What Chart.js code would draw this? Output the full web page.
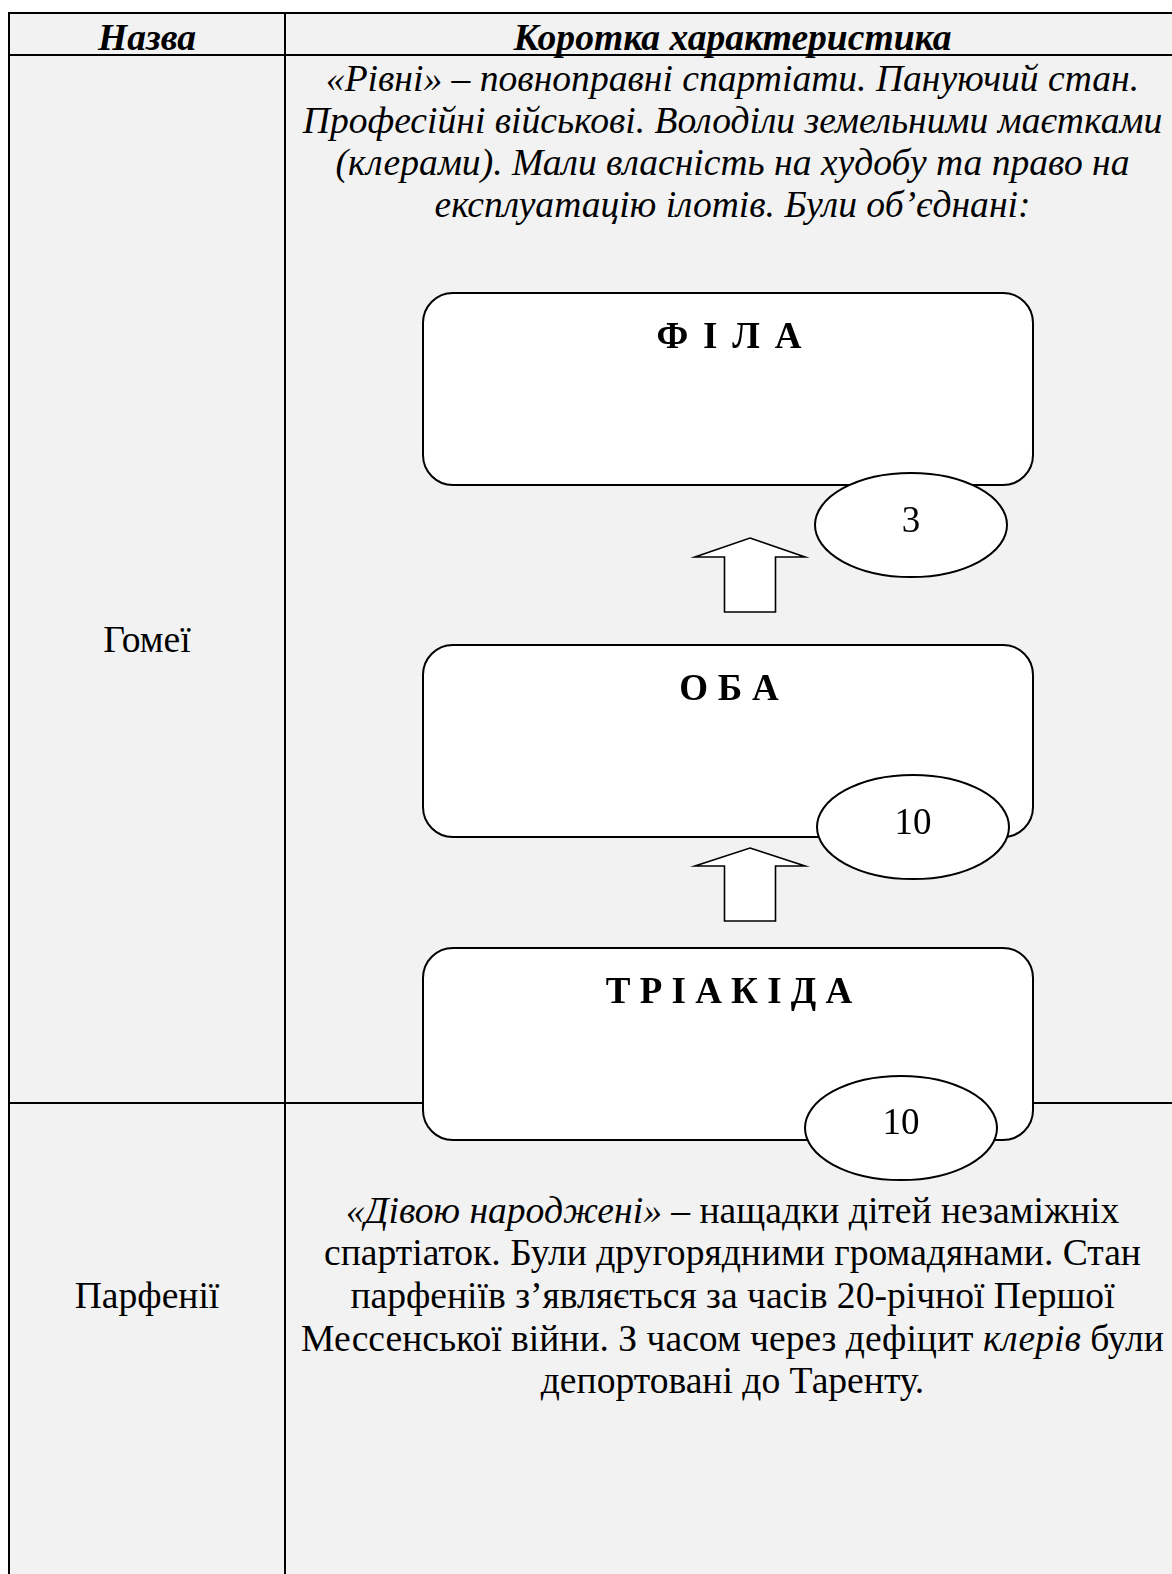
<!DOCTYPE html>
<html lang="uk">
<head>
<meta charset="utf-8">
<script src="https://cdn.jsdelivr.net/npm/chart.js@4.4.1/dist/chart.umd.min.js"></script>
<style>
html,body{margin:0;padding:0;width:1172px;height:1574px;overflow:hidden;background:#fff;}
#page{position:relative;width:1172px;height:1574px;overflow:hidden;}
.bg{position:absolute;left:8px;top:12px;width:1200px;height:1600px;background:#f2f2f2;}
.line{position:absolute;background:#000;}
.txt{position:absolute;font-family:"Liberation Serif","Times New Roman",serif;font-size:37.6px;line-height:42px;color:#000;white-space:nowrap;text-align:center;}
.hdr{font-weight:bold;font-style:italic;}
.it{font-style:italic;}
.lh2{line-height:42.7px;}
#c{position:absolute;left:0;top:0;}
</style>
</head>
<body>
<div id="page">
  <div class="bg"></div>
  <div class="line" style="left:8px;top:12px;width:1200px;height:2px"></div>
  <div class="line" style="left:8px;top:12px;width:2px;height:1600px"></div>
  <div class="line" style="left:8px;top:54px;width:1200px;height:2px"></div>
  <div class="line" style="left:284px;top:12px;width:2px;height:1600px"></div>
  <div class="line" style="left:8px;top:1102px;width:1200px;height:2px"></div>
  <div id="texts"></div>
  <canvas id="c" width="1172" height="1574" style="width:1172px;height:1574px"></canvas>
</div>
<script>
// ---- data ----
const headers = ['Назва', 'Коротка характеристика'];
const rowNames = ['Гомеї', 'Парфенії'];
const homoioiText = [
  '«Рівні» – повноправні спартіати. Пануючий стан.',
  'Професійні військові. Володіли земельними маєтками',
  '(клерами). Мали власність на худобу та право на',
  'експлуатацію ілотів. Були об’єднані:'
];
const partheniaiText = [
  '_«Дівою народжені»_ – нащадки дітей незаміжніх',
  'спартіаток. Були другорядними громадянами. Стан',
  'парфеніїв з’являється за часів 20-річної Першої',
  'Мессенської війни. З часом через дефіцит _клерів_ були',
  'депортовані до Таренту.'
];
const unionNames = ['Ф І Л А', 'О Б А', 'Т Р І А К І Д А'];
const unionCounts = [3, 10, 10];

// ---- layout (pixels) ----
const col1 = {left: 10, right: 284};
const col2 = {left: 286, right: 1179};
const textTops = {header: 16.5, homoioi: 58.3, homoioiName: 618.5, parth: 1189.5, parthName: 1274.9};

const diagram = {
  boxX0: 423, boxX1: 1033, boxH: 192, radius: 30,
  boxTops: [293, 645, 948],
  labelX: 729, labelBase: [348, 700, 1003], labelSpacing: [2.8, 0.3, 0],
  ellipses: [[911, 525], [913, 827], [901, 1128]], rx: 96, ry: 52,
  countBase: [532, 834, 1134],
  arrows: [{x: 750, tip: 538, base: 557, bottom: 612}, {x: 750, tip: 848, base: 866, bottom: 921}],
  wing: 55, shaft: 25.5
};

// ---- HTML text ----
const holder = document.getElementById('texts');
function addText(html, left, width, top, cls) {
  const d = document.createElement('div');
  d.className = 'txt ' + (cls || '');
  d.style.left = left + 'px';
  d.style.width = width + 'px';
  d.style.top = top + 'px';
  d.innerHTML = html;
  holder.appendChild(d);
}
const esc = s => s.replace(/&/g,'&amp;').replace(/</g,'&lt;');
const mark = s => esc(s).replace(/_([^_]+)_/g, '<i>$1</i>');
addText(esc(headers[0]), col1.left, col1.right - col1.left, textTops.header, 'hdr');
addText(esc(headers[1]), col2.left, col2.right - col2.left, textTops.header, 'hdr');
addText(esc(rowNames[0]), col1.left, col1.right - col1.left, textTops.homoioiName, '');
addText(esc(rowNames[1]), col1.left, col1.right - col1.left, textTops.parthName, '');
addText(homoioiText.map(esc).join('<br>'), col2.left, col2.right - col2.left, textTops.homoioi, 'it');
addText(partheniaiText.map(mark).join('<br>'), col2.left, col2.right - col2.left, textTops.parth, 'lh2');

// ---- Chart.js diagram ----
const diagramPlugin = {
  id: 'diagram',
  afterDatasetsDraw(chart) {
    const ctx = chart.ctx;
    const X = v => chart.scales.x.getPixelForValue(v);
    const Y = v => chart.scales.y.getPixelForValue(v);
    ctx.save();
    ctx.strokeStyle = '#000';
    ctx.fillStyle = '#fff';
    ctx.lineJoin = 'miter';
    // arrows
    ctx.lineWidth = 1.6;
    diagram.arrows.forEach(a => {
      ctx.beginPath();
      ctx.moveTo(X(a.x), Y(a.tip));
      ctx.lineTo(X(a.x + diagram.wing), Y(a.base));
      ctx.lineTo(X(a.x + diagram.shaft), Y(a.base));
      ctx.lineTo(X(a.x + diagram.shaft), Y(a.bottom));
      ctx.lineTo(X(a.x - diagram.shaft), Y(a.bottom));
      ctx.lineTo(X(a.x - diagram.shaft), Y(a.base));
      ctx.lineTo(X(a.x - diagram.wing), Y(a.base));
      ctx.closePath();
      ctx.fill(); ctx.stroke();
    });
    // boxes
    ctx.lineWidth = 2;
    unionNames.forEach((name, i) => {
      const x0 = X(diagram.boxX0), x1 = X(diagram.boxX1);
      const y0 = Y(diagram.boxTops[i]), y1 = Y(diagram.boxTops[i] + diagram.boxH);
      const r = diagram.radius;
      ctx.beginPath();
      ctx.moveTo(x0 + r, y0);
      ctx.arcTo(x1, y0, x1, y1, r);
      ctx.arcTo(x1, y1, x0, y1, r);
      ctx.arcTo(x0, y1, x0, y0, r);
      ctx.arcTo(x0, y0, x1, y0, r);
      ctx.closePath();
      ctx.fillStyle = '#fff';
      ctx.fill(); ctx.stroke();
      // label
      ctx.fillStyle = '#000';
      ctx.font = 'bold 37px "Liberation Serif", "Times New Roman", serif';
      const sp = diagram.labelSpacing[i];
      if ('letterSpacing' in ctx) ctx.letterSpacing = sp + 'px';
      const w = ctx.measureText(name).width - sp;
      ctx.textAlign = 'left';
      ctx.textBaseline = 'alphabetic';
      ctx.fillText(name, X(diagram.labelX) - w / 2, Y(diagram.labelBase[i]));
      if ('letterSpacing' in ctx) ctx.letterSpacing = '0px';
    });
    // ellipses with counts
    unionCounts.forEach((c, i) => {
      const [cx, cy] = diagram.ellipses[i];
      ctx.beginPath();
      ctx.ellipse(X(cx), Y(cy), diagram.rx, diagram.ry, 0, 0, Math.PI * 2);
      ctx.fillStyle = '#fff';
      ctx.lineWidth = 2;
      ctx.fill(); ctx.stroke();
      ctx.fillStyle = '#000';
      ctx.font = '37px "Liberation Serif", "Times New Roman", serif';
      ctx.textAlign = 'center';
      ctx.textBaseline = 'alphabetic';
      ctx.fillText(String(c), X(cx), Y(diagram.countBase[i]));
    });
    ctx.restore();
  }
};

new Chart(document.getElementById('c'), {
  type: 'scatter',
  data: {
    datasets: [{
      label: 'union',
      data: unionCounts.map((c, i) => ({x: diagram.ellipses[i][0], y: diagram.ellipses[i][1]})),
      pointRadius: 0,
      showLine: false
    }]
  },
  options: {
    responsive: false,
    animation: false,
    devicePixelRatio: 1,
    events: [],
    layout: {padding: 0},
    plugins: {legend: {display: false}, tooltip: {enabled: false}, title: {display: false}},
    scales: {
      x: {type: 'linear', min: 0, max: 1172, display: false},
      y: {type: 'linear', min: 0, max: 1574, reverse: true, display: false}
    }
  },
  plugins: [diagramPlugin]
});
</script>
</body>
</html>
